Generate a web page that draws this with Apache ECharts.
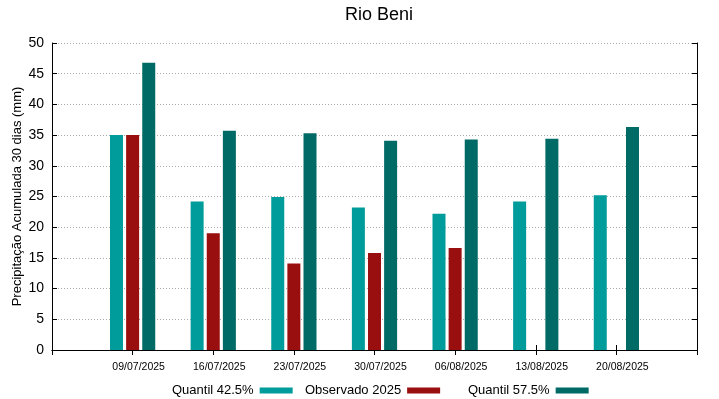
<!DOCTYPE html>
<html>
<head>
<meta charset="utf-8">
<script src="https://cdn.jsdelivr.net/npm/echarts@6/dist/echarts.min.js"></script>
<style>
  html, body { margin: 0; padding: 0; background: #fff; }
  #chart { width: 719px; height: 399px; }
</style>
</head>
<body>
<div id="chart"></div>
<script>
// datas das semanas
const dates = ['09/07/2025', '16/07/2025', '23/07/2025', '30/07/2025', '06/08/2025', '13/08/2025', '20/08/2025']
// precipitação acumulada 30 dias (mm)
const quantil425 = [35.0, 24.2, 24.9, 23.2, 22.2, 24.2, 25.2]
const observado = [35.0, 19.0, 14.1, 15.8, 16.6, null, null]
const quantil575 = [46.8, 35.7, 35.3, 34.1, 34.3, 34.4, 36.3]
const yTicks = [0, 5, 10, 15, 20, 25, 30, 35, 40, 45, 50]

const colors = ['#009b9b', '#990e0e', '#006a66']
const font = 'Liberation Sans, Arial, sans-serif'

// eixo x vai de -1 a 7, então coloca uma categoria vazia em cada ponta
const cats = [''].concat(dates, [''])
const pad = (arr) => [null].concat(arr, [null])

const chart = echarts.init(document.getElementById('chart'))

const legendItem = (name, left) => ({
  data: [name],
  left: left,
  top: 379,
  align: 'right',
  icon: 'rect',
  itemWidth: 33,
  itemHeight: 6,
  selectedMode: false,
  textStyle: { fontFamily: font, fontSize: 13, color: '#000', padding: [0, 1, 0, 0] }
})

const option = {
  animation: false,
  backgroundColor: '#fff',
  title: {
    text: 'Rio Beni',
    left: 374,
    textAlign: 'center',
    top: 1,
    textStyle: { fontFamily: font, fontSize: 18, fontWeight: 'normal', color: '#000' }
  },
  legend: [
    legendItem('Quantil 42.5%', 167),
    legendItem('Observado 2025', 300),
    legendItem('Quantil 57.5%', 463)
  ],
  grid: { left: 52, right: 22, top: 43, bottom: 49, containLabel: false, outerBoundsMode: 'none' },
  xAxis: [
    {
      type: 'category',
      data: cats,
      boundaryGap: false,
      axisLine: { lineStyle: { color: '#000', width: 1 } },
      axisTick: { inside: true, length: 5, lineStyle: { color: '#000' } },
      axisLabel: { fontFamily: font, fontSize: 10.5, color: '#000', margin: 12, padding: [0, 0, 0, 12], interval: 0 },
      splitLine: { show: false }
    },
    {
      type: 'category',
      data: cats,
      position: 'top',
      boundaryGap: false,
      axisLine: { lineStyle: { color: '#000', width: 1 } },
      axisTick: { inside: true, length: 5, lineStyle: { color: '#000' } },
      axisLabel: { show: false },
      splitLine: { show: false }
    }
  ],
  yAxis: [
    {
      type: 'value',
      min: 0,
      max: 50,
      interval: 5,
      name: 'Precipitação Acumulada 30 dias (mm)',
      nameLocation: 'middle',
      nameGap: 28,
      nameMoveOverlap: false,
      nameTextStyle: { fontFamily: font, fontSize: 13, color: '#000' },
      axisLine: { show: true, lineStyle: { color: '#000', width: 1 } },
      axisTick: { show: true, inside: true, length: 5, lineStyle: { color: '#000' } },
      axisLabel: {
        fontFamily: font, fontSize: 14, color: '#000', margin: 8,
        formatter: (v) => (yTicks.indexOf(v) >= 0 ? String(v) : '')
      },
      splitLine: { show: true, lineStyle: { color: '#aaa', type: [1, 2], width: 1 } }
    },
    {
      type: 'value',
      min: 0,
      max: 50,
      interval: 5,
      position: 'right',
      axisLine: { show: true, lineStyle: { color: '#000', width: 1 } },
      axisTick: { show: true, inside: true, length: 5, lineStyle: { color: '#000' } },
      axisLabel: { show: false },
      splitLine: { show: false }
    }
  ],
  series: [
    {
      name: 'Quantil 42.5%',
      type: 'bar',
      data: pad(quantil425),
      barWidth: 13,
      barGap: '24%',
      itemStyle: { color: colors[0] }
    },
    {
      name: 'Observado 2025',
      type: 'bar',
      data: pad(observado),
      barWidth: 13,
      barGap: '24%',
      itemStyle: { color: colors[1] }
    },
    {
      name: 'Quantil 57.5%',
      type: 'bar',
      data: pad(quantil575),
      barWidth: 13,
      barGap: '24%',
      itemStyle: { color: colors[2] }
    }
  ]
}

chart.setOption(option)
</script>
</body>
</html>
